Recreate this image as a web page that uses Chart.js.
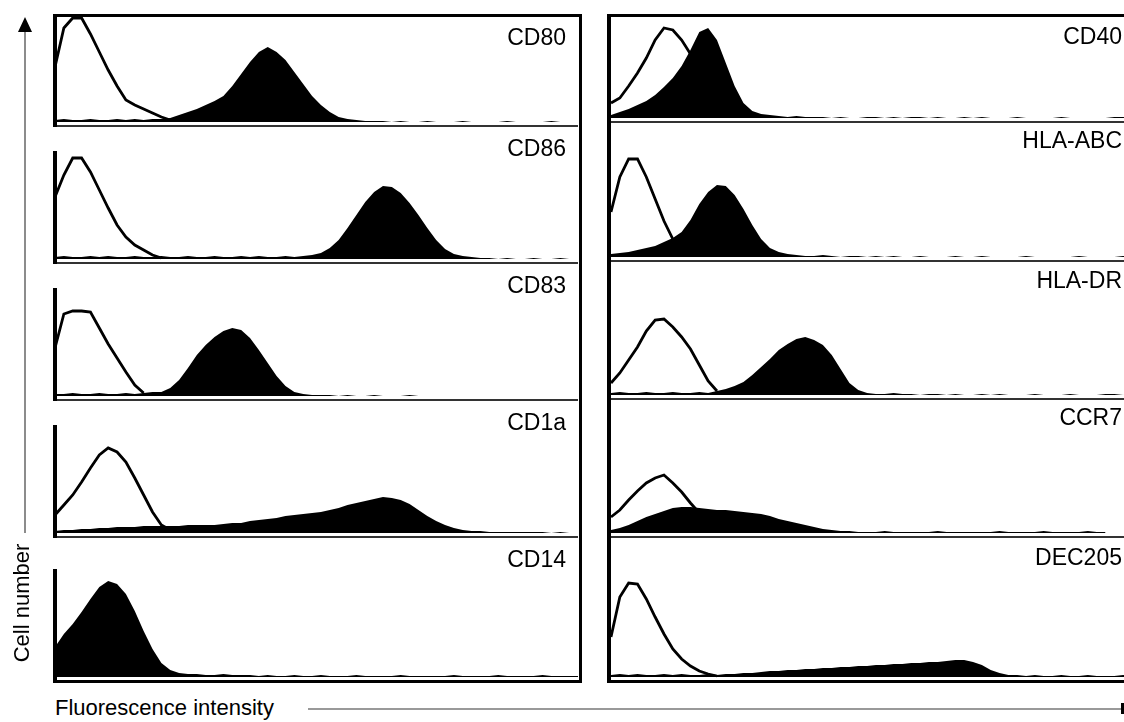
<!DOCTYPE html>
<html>
<head>
<meta charset="utf-8">
<script src="https://cdn.jsdelivr.net/npm/chart.js@4.4.1/dist/chart.umd.min.js"></script>
<style>
  html, body { margin: 0; padding: 0; background: #fff; }
  body { position: relative; width: 1124px; height: 722px; overflow: hidden; font-family: "Liberation Sans", Arial, sans-serif; color: #000; }
  .clip { position: absolute; overflow: hidden; }
  .clip canvas { position: absolute; }
  .frame { position: absolute; box-sizing: border-box; border: 3px solid #000; pointer-events: none; }
  .marker { position: absolute; font-size: 23px; line-height: 23px; white-space: nowrap; text-align: right; }
  .axis-title { position: absolute; font-size: 22px; line-height: 24px; white-space: nowrap; }
</style>
</head>
<body>
<div id="leftClip" class="clip" style="left:0; top:14px; width:582px; height:669px;"></div>
<div id="rightClip" class="clip" style="left:600px; top:14px; width:524px; height:669px;"></div>
<div class="frame" style="left:53px; top:14px; width:529px; height:669px; border-left:none;"></div>
<div class="frame" style="left:607px; top:14px; width:600px; height:669px; border-left-width:4px;"></div>
<div id="labels"></div>
<div class="axis-title" style="left:-43px; top:591px; width:130px; text-align:center; transform:rotate(-90deg);">Cell number</div>
<div class="axis-title" style="left:55px; top:696px;">Fluorescence intensity</div>
<svg width="1124" height="722" style="position:absolute; left:0; top:0; pointer-events:none;">
  <line x1="25" y1="30" x2="25" y2="533" stroke="#666" stroke-width="1.5"/>
  <polygon points="25,17 18,32 32,32" fill="#000"/>
  <line x1="308" y1="709" x2="1122" y2="709" stroke="#777" stroke-width="1.5"/>
  <rect x="1121" y="703" width="3" height="11" fill="#000"/>
</svg>
<script>
// fluorescence channel bins (log scale, 60 bins)
const channels = [0,1,2,3,4,5,6,7,8,9,10,11,12,13,14,15,16,17,18,19,
  20,21,22,23,24,25,26,27,28,29,30,31,32,33,34,35,36,37,38,39,
  40,41,42,43,44,45,46,47,48,49,50,51,52,53,54,55,56,57,58,59];

const leftMarkers = ['CD80', 'CD86', 'CD83', 'CD1a', 'CD14'];
const rightMarkers = ['CD40', 'HLA-ABC', 'HLA-DR', 'CCR7', 'DEC205'];

// stained (black filled) and isotype control (open) histograms, % of panel height
const cd80Filled = [2,3,2,2,3,2,2,3,2,3,2,3,3,4,7,10,13,17,21,26,36,48,60,70,75,70,62,50,38,26,
  17,10,5,3,2,1,1,1,0,1,0,0,1,0,0,0,1,0,0,0,0,1,0,0,0,0,1,0,0,0];
const cd80Open = [55,94,104,104,88,70,52,36,22,17,13,9,5,2];

const cd86Filled = [2,3,2,2,3,2,3,2,2,3,2,2,3,2,2,3,2,2,3,2,2,3,2,3,2,2,3,2,3,4,
  6,11,19,31,44,57,67,73,72,66,56,44,31,19,10,5,3,2,1,1,0,1,0,0,1,0,0,1,0,0];
const cd86Open = [62,84,101,101,87,69,51,34,22,14,9,4,1];

const cd83Filled = [2,2,3,2,2,3,2,2,3,2,3,4,4,8,16,28,41,51,59,65,68,66,58,46,33,20,10,4,2,1,
  1,1,0,1,0,0,1,0,0,0,1,0,0,0,0,0,0,0,0,0,0,0,0,0,0,0,0,0,0,0];
const cd83Open = [48,82,85,85,84,68,52,38,24,11,3];

const cd1aFilled = [2,3,3,4,4,5,5,6,6,6,7,7,7,7,7,8,8,8,8,9,10,10,12,13,14,15,17,18,19,20,
  21,23,25,28,30,32,34,36,35,33,29,23,17,12,8,5,3,2,2,1,1,1,1,1,1,1,0,1,0,0];
const cd1aOpen = [18,28,38,51,65,78,85,81,71,55,38,21,8,3];

const cd14Filled = [30,43,53,65,78,90,96,93,83,66,46,28,14,7,4,3,3,2,2,3,2,2,2,1,2,1,1,2,1,1,
  2,1,1,1,2,1,1,1,1,2,1,1,1,1,1,2,1,1,1,1,2,1,1,1,1,2,1,1,1,1];
const cd14Open = [];

const cd40Filled = [3,6,9,13,17,23,31,40,52,68,86,90,78,55,32,15,7,4,3,2,
  1,2,1,1,1,0,1,0,0,1,1,0,1,0,1,1,0,1,0,0,1,0,1,0,0,0,1,0,0,0,0,1,0,0,0,0,0,1,1,0];
const cd40Open = [15,20,32,45,60,78,90,88,78,64,52,40,28,15,5,2];

const hlaAbcFilled = [3,4,5,7,9,11,15,19,25,37,53,65,72,71,62,48,32,18,9,5,3,2,
  1,1,2,1,0,1,1,0,1,0,1,0,0,1,0,0,0,1,0,0,1,0,0,0,0,1,0,0,0,0,0,1,0,0,0,0,1,0];
const hlaAbcOpen = [45,80,98,98,80,58,36,18,8,3];

const hlaDrFilled = [2,3,2,2,3,2,2,3,2,2,3,2,4,6,9,13,20,28,36,45,51,56,58,55,50,40,26,12,5,2,
  1,1,2,1,1,0,1,1,0,1,0,0,1,0,1,0,0,0,1,0,0,0,1,0,0,0,1,1,0,1];
const hlaDrOpen = [12,22,35,48,64,75,76,68,58,46,30,14,4];

const ccr7Filled = [3,5,8,12,16,19,22,25,26,26,25,24,23,23,22,21,20,19,17,14,12,10,8,6,4,3,2,
  2,1,1,1,2,1,1,1,1,1,2,1,1,1,1,1,1,2,1,1,1,1,2,1,1,1,1,2,1,1,null,null,null];
const ccr7Open = [16,23,33,42,50,55,58,50,41,30,20,12,5];

const dec205Filled = [2,3,2,3,2,2,3,2,3,2,2,3,2,3,3,4,4,5,6,6,7,7,8,8,9,9,10,10,11,11,
  12,12,13,13,14,14,15,15,16,17,17,15,12,7,4,2,2,1,2,1,1,2,1,1,2,1,1,1,2,1];
const dec205Open = [40,80,94,93,78,60,43,28,18,11,6,3,1];

const leftFilled = [cd80Filled, cd86Filled, cd83Filled, cd1aFilled, cd14Filled];
const leftOpen = [cd80Open, cd86Open, cd83Open, cd1aOpen, cd14Open];
const rightFilled = [cd40Filled, hlaAbcFilled, hlaDrFilled, ccr7Filled, dec205Filled];
const rightOpen = [cd40Open, hlaAbcOpen, hlaDrOpen, ccr7Open, dec205Open];

// layout: x-axis position of each row, label centres
const leftAxisY = [126, 263, 400, 537, 681];
const rightAxisY = [122, 261, 399, 537, 681];
const leftLabelY = [37, 148, 285, 422, 559];
const rightLabelY = [36, 140, 280, 417, 557];

function makePanel(clip, clipLeft, canvasLeft, width, axisY, filled, open, drawYAxis) {
  const canvas = document.createElement('canvas');
  canvas.width = width;
  canvas.height = 140;
  canvas.style.left = (canvasLeft - clipLeft) + 'px';
  canvas.style.top = (axisY - 137 - 14) + 'px';
  clip.appendChild(canvas);

  new Chart(canvas, {
    type: 'line',
    data: {
      labels: channels,
      datasets: [
        {
          data: filled,
          fill: 'origin',
          backgroundColor: '#000',
          borderColor: 'rgba(0,0,0,0)',
          borderWidth: 1,
          pointRadius: 0,
          tension: 0,
        },
        {
          data: open,
          fill: false,
          borderColor: '#000',
          borderWidth: 2.8,
          pointRadius: 0,
          tension: 0,
        },
      ],
    },
    options: {
      responsive: false,
      animation: false,
      events: [],
      layout: { padding: { left: 4, right: 0, top: 27, bottom: 3 } },
      plugins: { legend: { display: false }, tooltip: { enabled: false } },
      scales: {
        x: {
          ticks: { display: false },
          grid: { display: false, drawTicks: false },
          border: { display: true, color: '#333', width: 2 },
        },
        y: {
          min: -4,
          max: 106,
          ticks: { display: false },
          grid: { display: false, drawTicks: false },
          border: { display: drawYAxis, color: '#000', width: 4 },
        },
      },
    },
  });
}

const leftClip = document.getElementById('leftClip');
const rightClip = document.getElementById('rightClip');
const labels = document.getElementById('labels');

function addLabel(text, rightEdge, centerY) {
  const el = document.createElement('div');
  el.className = 'marker';
  el.textContent = text;
  el.style.right = (1124 - rightEdge) + 'px';
  el.style.top = (centerY - 11) + 'px';
  labels.appendChild(el);
}

for (let i = 0; i < 5; i++) {
  makePanel(leftClip, 0, 51, 527, leftAxisY[i], leftFilled[i], leftOpen[i], true);
  makePanel(rightClip, 600, 607, 525, rightAxisY[i], rightFilled[i], rightOpen[i], false);
  addLabel(leftMarkers[i], 566, leftLabelY[i]);
  addLabel(rightMarkers[i], 1122, rightLabelY[i]);
}
</script>
</body>
</html>
